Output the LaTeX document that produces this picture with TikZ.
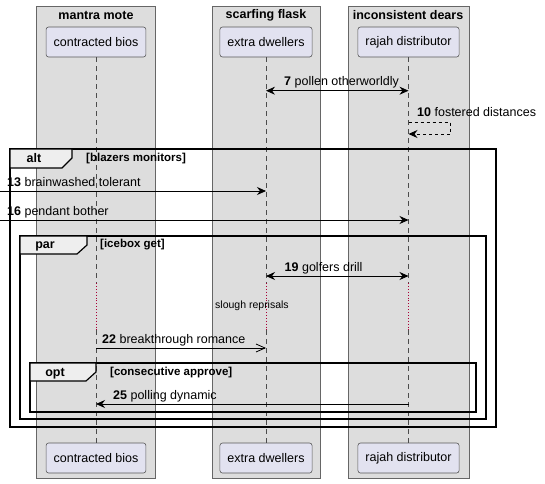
\documentclass[tikz,border=0pt]{standalone}
\usepackage{fontspec}
\setmainfont{Liberation Sans}
\usetikzlibrary{arrows.meta,positioning}
\definecolor{boxgray}{HTML}{DDDDDD}
\definecolor{partfill}{HTML}{E2E2F0}
\definecolor{tabfill}{HTML}{EEEEEE}
\definecolor{delayred}{HTML}{A80036}
\newcommand{\msgfont}{\fontsize{12.5}{14}\selectfont}
\newcommand{\condfont}{\fontsize{11.5}{13}\selectfont\bfseries}

\tikzset{
  grp/.style={draw=gray!80!black,fill=boxgray,line width=0.7pt},
  grptitle/.style={font=\fontsize{12.5}{14}\selectfont\bfseries},
  part/.style={draw=gray!70!black,fill=partfill,rounded corners=2.5pt,
    minimum height=30pt,inner xsep=7.5pt,font=\msgfont,line width=0.6pt},
  life/.style={gray!60!black,dash pattern=on 5pt off 4pt,line width=0.7pt},
  delay/.style={delayred,dotted,line width=0.9pt},
  msg/.style={black,line width=0.8pt},
  msglbl/.style={anchor=base west,font=\msgfont,inner sep=0pt},
  frm/.style={draw=black,line width=1.6pt},
  tab/.style={fill=tabfill,draw=black,line width=1.2pt},
  tablbl/.style={font=\fontsize{12.5}{14}\selectfont\bfseries},
  cond/.style={anchor=west,font=\condfont,inner sep=0pt}
}

\begin{document}
\begin{tikzpicture}[x=1pt,y=-1pt,>={Stealth[length=9pt,width=8pt,inset=3pt]}]
  \useasboundingbox (0,0) rectangle (545,483);
  % participant groups
  \draw[grp] (36,6) rectangle (155,478);
  \draw[grp] (212,6) rectangle (320,478);
  \draw[grp] (348,6) rectangle (469,478);
  \node[grptitle] (g1) at (96,15) {mantra mote};
  \node[grptitle] (g2) at (266,15) {scarfing flask};
  \node[grptitle] (g3) at (408,15) {inconsistent dears};
  % participants
  \node[part] (cb) at (96,42) {contracted bios};
  \node[part] (ed) at (266,42) {extra dwellers};
  \node[part] (rd) at (408.5,42) {rajah distributor};
  \node[part] (cb2) at (96,458) {contracted bios};
  \node[part] (ed2) at (266,458) {extra dwellers};
  \node[part] (rd2) at (408.5,458) {rajah distributor};
  % rows of the messages
  \coordinate (y7) at (0,90.7);   \coordinate (y10a) at (0,122); \coordinate (y10b) at (0,134);
  \coordinate (y13) at (0,191);   \coordinate (y16) at (0,220);  \coordinate (y19) at (0,276);
  \coordinate (yd1) at (0,283);   \coordinate (yd2) at (0,330);
  \coordinate (y22) at (0,348);   \coordinate (y25) at (0,404);
  % lifelines, with the delay
  \foreach \p in {cb,ed,rd}{
    \draw[life] (\p.south) -- (\p.south |- yd1);
    \draw[delay] (\p.south |- yd1) -- (\p.south |- yd2);
    \draw[life] (\p.south |- yd2) -- (\p2.north);
  }
  \node[font=\fontsize{10.5}{12}\selectfont] (dl) at (252,305.5) {slough reprisals};
  % messages
  \draw[msg,<->] (ed.south |- y7) -- (rd.south |- y7);
  \node[msglbl] (l7) at (284,85) {\textbf{7} pollen otherworldly};
  \coordinate (s10a) at (450,122); \coordinate (s10b) at (450,134);
  \draw[msg,dashed,->] (rd.south |- y10a) -- (s10a) -- (s10b) -- (rd.south |- y10b);
  \node[msglbl] (l10) at (417,116.5) {\textbf{10} fostered distances};
  \coordinate (in13) at (0,191); \coordinate (in16) at (0,220);
  \draw[msg,->] (in13) -- (ed.south |- y13);
  \node[msglbl] (l13) at (7,186) {\textbf{13} brainwashed tolerant};
  \draw[msg,->] (in16) -- (rd.south |- y16);
  \node[msglbl] (l16) at (7,215.5) {\textbf{16} pendant bother};
  \draw[msg,<->] (ed.south |- y19) -- (rd.south |- y19);
  \node[msglbl] (l19) at (284.5,271.5) {\textbf{19} golfers drill};
  \draw[msg,-{Straight Barb[length=9pt,width=8pt]}] (cb.south |- y22) -- (ed.south |- y22);
  \node[msglbl] (l22) at (102,343.5) {\textbf{22} breakthrough romance};
  \draw[msg,->] (rd.south |- y25) -- (cb.south |- y25);
  \node[msglbl] (l25) at (113,399) {\textbf{25} polling dynamic};
  % frames
  \draw[frm] (10,149) rectangle (496,427);
  \draw[tab] (10,149) -- (72,149) -- (72,158) -- (62,168) -- (10,168) -- cycle;
  \node[tablbl] (alt) at (34,158.5) {alt};
  \node[cond] (c1) at (86,158.5) {[blazers monitors]};
  \draw[frm] (20,236) rectangle (486,419);
  \draw[tab] (20,236) -- (87,236) -- (87,245) -- (77,254) -- (20,254) -- cycle;
  \node[tablbl] (par) at (45,246) {par};
  \node[cond] (c2) at (100,245) {[icebox get]};
  \draw[frm] (30,363) rectangle (476,412);
  \draw[tab] (30,363) -- (96,363) -- (96,372) -- (86,381) -- (30,381) -- cycle;
  \node[tablbl] (opt) at (55,373.5) {opt};
  \node[cond] (c3) at (110,373) {[consecutive approve]};
\end{tikzpicture}
\end{document}
